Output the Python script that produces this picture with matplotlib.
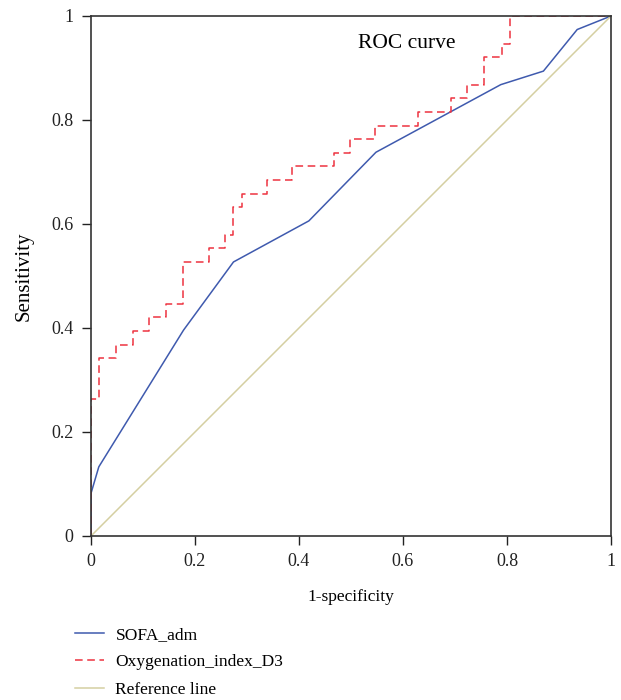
import matplotlib
matplotlib.use("Agg")
import matplotlib.pyplot as plt

plt.rcParams['font.family'] = ['Liberation Serif', 'DejaVu Serif']

# SOFA_adm ROC points
sofa_fpr = [0.0, 0.0, 0.015, 0.178, 0.274, 0.419, 0.548, 0.788, 0.870, 0.935, 1.0]
sofa_tpr = [0.0, 0.082, 0.133, 0.396, 0.527, 0.606, 0.738, 0.868, 0.894, 0.974, 1.0]

# Oxygenation_index_D3 ROC (step) corners
oxy_fpr = [0.0, 0.0, 0.015, 0.015, 0.048, 0.048, 0.080, 0.080, 0.112, 0.112,
           0.144, 0.144, 0.176, 0.176, 0.226, 0.226, 0.258, 0.258, 0.274, 0.274,
           0.290, 0.290, 0.338, 0.338, 0.387, 0.387, 0.468, 0.468, 0.499, 0.499,
           0.547, 0.547, 0.628, 0.628, 0.692, 0.692, 0.724, 0.724, 0.756, 0.756,
           0.790, 0.790, 0.806, 0.806, 1.0]
oxy_tpr = [0.0, 0.263, 0.263, 0.342, 0.342, 0.368, 0.368, 0.395, 0.395, 0.421,
           0.421, 0.447, 0.447, 0.526, 0.526, 0.553, 0.553, 0.579, 0.579, 0.632,
           0.632, 0.658, 0.658, 0.684, 0.684, 0.711, 0.711, 0.737, 0.737, 0.763,
           0.763, 0.789, 0.789, 0.816, 0.816, 0.842, 0.842, 0.868, 0.868, 0.921,
           0.921, 0.947, 0.947, 1.0, 1.0]

ref_x = [0.0, 1.0]
ref_y = [0.0, 1.0]

ticks = [0, 0.2, 0.4, 0.6, 0.8, 1]
tick_labels = ['0', '0.2', '0.4', '0.6', '0.8', '1']

fig = plt.figure(figsize=(6.21, 7.0), dpi=100)
ax = fig.add_axes([91/621, 164/700, 520/621, 520/700])

l1, = ax.plot(sofa_fpr, sofa_tpr, color='#3F5AAE', lw=1.1, label='SOFA_adm')
l2, = ax.plot(oxy_fpr, oxy_tpr, color='#EE3340', lw=1.1, ls=(0, (5, 3)),
              label='Oxygenation_index_D3')
l3, = ax.plot(ref_x, ref_y, color='#D5CFA2', lw=1.1, label='Reference line')

ax.set_xlim(0, 1)
ax.set_ylim(0, 1)
ax.set_xticks(ticks)
ax.set_xticklabels(tick_labels)
ax.set_yticks(ticks)
ax.set_yticklabels(tick_labels)
ax.tick_params(direction='out', length=6.5, width=1.0, labelsize=13, colors='#222222',
               pad=6)
for s in ax.spines.values():
    s.set_color('#333333')
    s.set_linewidth(1.2)

ax.set_xlabel('1-specificity', fontsize=12.5, labelpad=13.5)
ax.set_ylabel('Sensitivity', fontsize=15, labelpad=13)

ax.text(0.608, 0.948, 'ROC curve', fontsize=15.5, ha='center', va='center')

fig.legend(handles=[l1, l2, l3], loc='upper left', bbox_to_anchor=(0.120, 0.105),
           frameon=False, fontsize=12.5, handlelength=1.67, handletextpad=0.69,
           labelspacing=0.66, borderaxespad=0, borderpad=0)

fig.savefig('out.png', dpi=100)
